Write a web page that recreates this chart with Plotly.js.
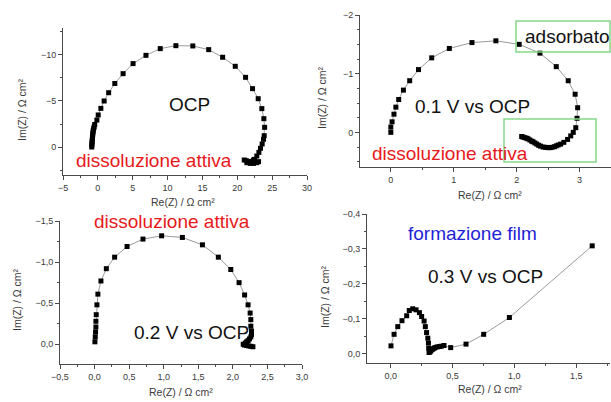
<!DOCTYPE html>
<html>
<head>
<meta charset="utf-8">
<script src="https://cdn.plot.ly/plotly-3.0.1.min.js"></script>
<style>
  html, body { margin: 0; padding: 0; background: #ffffff; }
  #chart { width: 611px; height: 402px; }
</style>
</head>
<body>
<div id="chart"></div>
<script>
// Nyquist spectra (Re(Z), Im(Z) in ohm cm2) at four polarisation levels

// OCP
const reOCP = [-0.88, -0.86, -0.84, -0.82, -0.80, -0.78, -0.76, -0.73, -0.70, -0.66, -0.60, -0.53, -0.45,
  -0.14, 0.05, 0.43, 0.90, 1.55, 2.43, 3.62, 5.05, 6.90, 8.95, 11.19, 13.62, 15.90, 17.90, 19.71,
  21.19, 22.19, 23.00, 23.52, 23.81, 23.92, 23.86, 23.76, 23.57, 23.33, 23.10, 22.80, 22.47,
  22.33, 21.95, 21.62, 21.29, 21.00, 21.38, 21.86, 22.33, 22.80, 23.05];
const imOCP = [0.00, -0.20, -0.40, -0.60, -0.80, -1.00, -1.20, -1.40, -1.60, -1.80, -2.00, -2.20, -2.45,
  -2.93, -3.48, -4.20, -5.00, -5.90, -6.90, -7.97, -9.06, -9.96, -10.69, -11.01, -10.98, -10.58, -9.75, -8.77,
  -7.57, -6.34, -5.25, -4.17, -3.08, -2.14, -1.23, -0.84, -0.33, 0.14, 0.58, 0.98, 1.34,
  1.41, 1.56, 1.63, 1.49, 1.41, 1.70, 1.78, 1.78, 1.70, 1.59];

// 0.1 V vs OCP
const re01 = [0.00, 0.00, 0.02, 0.05, 0.08, 0.125, 0.20, 0.30, 0.44, 0.65, 0.93, 1.29, 1.67, 2.04, 2.37,
  2.63, 2.82, 2.93, 2.97, 2.96, 2.94, 2.90, 2.86, 2.81, 2.75, 2.70, 2.66, 2.63, 2.60, 2.56, 2.53, 2.50,
  2.46, 2.42, 2.38, 2.35, 2.32, 2.29, 2.26, 2.24, 2.21, 2.18, 2.16, 2.13, 2.10, 2.08];
const im01 = [0.00, -0.09, -0.18, -0.31, -0.43, -0.56, -0.72, -0.88, -1.07, -1.27, -1.43, -1.53, -1.56, -1.50, -1.35,
  -1.12, -0.88, -0.65, -0.42, -0.24, -0.08, 0.00, 0.06, 0.12, 0.17, 0.20, 0.215, 0.23, 0.245, 0.255, 0.26, 0.26,
  0.255, 0.25, 0.235, 0.22, 0.20, 0.18, 0.16, 0.15, 0.13, 0.11, 0.10, 0.09, 0.08, 0.07];

// 0.2 V vs OCP
const re02 = [0.005, 0.01, 0.014, 0.019, 0.019, 0.024, 0.034, 0.048, 0.092, 0.17, 0.29, 0.47, 0.70, 0.97,
  1.27, 1.56, 1.79, 1.97, 2.09, 2.17, 2.22, 2.25, 2.26, 2.26, 2.27, 2.27, 2.26, 2.24, 2.22, 2.20, 2.18,
  2.15, 2.17, 2.20, 2.23, 2.26, 2.29];
const im02 = [-0.03, -0.09, -0.15, -0.21, -0.28, -0.36, -0.48, -0.61, -0.77, -0.92, -1.06, -1.19, -1.28, -1.32,
  -1.30, -1.21, -1.06, -0.91, -0.75, -0.60, -0.48, -0.38, -0.30, -0.22, -0.16, -0.12, -0.09, -0.065, -0.045, -0.03, -0.015,
  0.00, 0.01, 0.015, 0.02, 0.025, 0.03];

// 0.3 V vs OCP
const re03 = [0.002, 0.027, 0.057, 0.091, 0.129, 0.15, 0.178, 0.205, 0.232, 0.25, 0.27, 0.28, 0.29, 0.30,
  0.305, 0.307, 0.31, 0.318, 0.324, 0.332, 0.34, 0.35, 0.358, 0.375, 0.393, 0.41, 0.431, 0.485, 0.609,
  0.752, 0.96, 1.63];
const im03 = [-0.023, -0.056, -0.078, -0.095, -0.109, -0.124, -0.129, -0.126, -0.118, -0.107, -0.094, -0.078, -0.061, -0.045,
  -0.031, -0.016, -0.004, -0.006, -0.009, -0.012, -0.014, -0.016, -0.018, -0.020, -0.021, -0.022, -0.024, -0.018, -0.028,
  -0.056, -0.104, -0.309];

const reTitle = 'Re(Z) / \u03a9 cm\u00b2';
const imTitle = 'Im(Z) / \u03a9 cm\u00b2';

const FONT = 'Liberation Sans, Arial, sans-serif';
const AXIS_COLOR = '#4a4a4a';
const TICK_FONT = { family: FONT, size: 9, color: '#3a3a3a' };
const TITLE_FONT = { family: FONT, size: 10.5, color: '#3a3a3a' };

function series(x, y, xa, ya) {
  return {
    x: x, y: y, xaxis: xa, yaxis: ya,
    type: 'scatter', mode: 'lines+markers',
    line: { color: '#9a9a9a', width: 1 },
    marker: { symbol: 'square', size: 5, color: '#000000' },
    hoverinfo: 'x+y', showlegend: false
  };
}

function axis(domain, range, dtick, minor, fmt, anchor) {
  return {
    domain: domain, range: range, anchor: anchor,
    showline: true, linecolor: AXIS_COLOR, linewidth: 1,
    showgrid: false, zeroline: false,
    ticks: 'outside', ticklen: 4, tickcolor: AXIS_COLOR, tickwidth: 1,
    dtick: dtick, tick0: 0, tickformat: fmt, tickfont: TICK_FONT,
    minor: { ticks: 'outside', ticklen: 2, dtick: minor, tickcolor: AXIS_COLOR, showgrid: false },
    fixedrange: true
  };
}

const data = [
  series(reOCP, imOCP, 'x', 'y'),
  series(re01, im01, 'x2', 'y2'),
  series(re02, im02, 'x3', 'y3'),
  series(re03, im03, 'x4', 'y4')
];

const W = 611, H = 402;
const px = v => v / W;
const py = v => 1 - v / H;

function label(text, x, y, color) {
  return {
    text: text, x: px(x), y: py(y), xref: 'paper', yref: 'paper',
    xanchor: 'center', yanchor: 'middle', showarrow: false,
    font: { family: FONT, size: 19, color: color }
  };
}

// axis titles placed beside each panel's axes
function axisTitle(text, x, y, angle) {
  return {
    text: text, x: px(x), y: py(y), xref: 'paper', yref: 'paper',
    xanchor: 'center', yanchor: 'middle', showarrow: false, textangle: angle,
    font: TITLE_FONT
  };
}

const layout = {
  width: W, height: H,
  margin: { l: 0, r: 0, t: 0, b: 0 },
  paper_bgcolor: '#ffffff', plot_bgcolor: 'rgba(0,0,0,0)',
  separators: ',.',
  showlegend: false,
  xaxis:  axis([px(63), px(307)], [-5, 30], 5, 2.5, 'd', 'y'),
  yaxis:  axis([py(175), py(28)], [3.04, -12.93], 5, 2.5, 'd', 'x'),
  xaxis2: axis([px(360), px(611)], [-0.49, 3.5], 1, 0.5, 'd', 'y2'),
  yaxis2: axis([py(167), py(15)], [0.59, -2.0], 1, 0.25, 'd', 'x2'),
  xaxis3: axis([px(60), px(302)], [-0.5, 3.0], 0.5, 0.25, '.1f', 'y3'),
  yaxis3: axis([py(364), py(221)], [0.24, -1.5], 0.5, 0.25, '.1f', 'x3'),
  xaxis4: axis([px(367), px(610)], [-0.192, 1.774], 0.5, 0.25, '.1f', 'y4'),
  yaxis4: axis([py(363), py(214)], [0.026, -0.4], 0.1, 0.05, '.1f', 'x4'),
  annotations: [
    axisTitle(reTitle, 183, 202, 0),
    axisTitle(imTitle, 22, 110, -90),
    axisTitle(reTitle, 490, 195, 0),
    axisTitle(imTitle, 322, 98, -90),
    axisTitle(reTitle, 181, 392, 0),
    axisTitle(imTitle, 17, 300, -90),
    axisTitle(reTitle, 490, 389, 0),
    axisTitle(imTitle, 325, 297, -90),
    label('OCP', 189, 105, '#111111'),
    label('dissoluzione attiva', 154, 160, '#e8191c'),
    label('0.1 V vs OCP', 472, 106, '#111111'),
    label('dissoluzione attiva', 450, 153, '#e8191c'),
    label('adsorbato', 567, 37, '#111111'),
    label('dissoluzione attiva', 172, 221, '#e8191c'),
    label('0.2 V vs OCP', 191, 332, '#111111'),
    label('formazione film', 473, 233, '#1f1fd6'),
    label('0.3 V vs OCP', 485, 276, '#111111')
  ],
  shapes: [
    { type: 'rect', xref: 'paper', yref: 'paper', x0: px(516), x1: px(610), y0: py(52), y1: py(21),
      line: { color: '#86d886', width: 1.5 }, fillcolor: 'rgba(0,0,0,0)' },
    { type: 'rect', xref: 'paper', yref: 'paper', x0: px(504), x1: px(596), y0: py(162), y1: py(119),
      line: { color: '#86d886', width: 1.5 }, fillcolor: 'rgba(0,0,0,0)' }
  ]
};

Plotly.newPlot('chart', data, layout, { staticPlot: true, displayModeBar: false });
</script>
</body>
</html>
